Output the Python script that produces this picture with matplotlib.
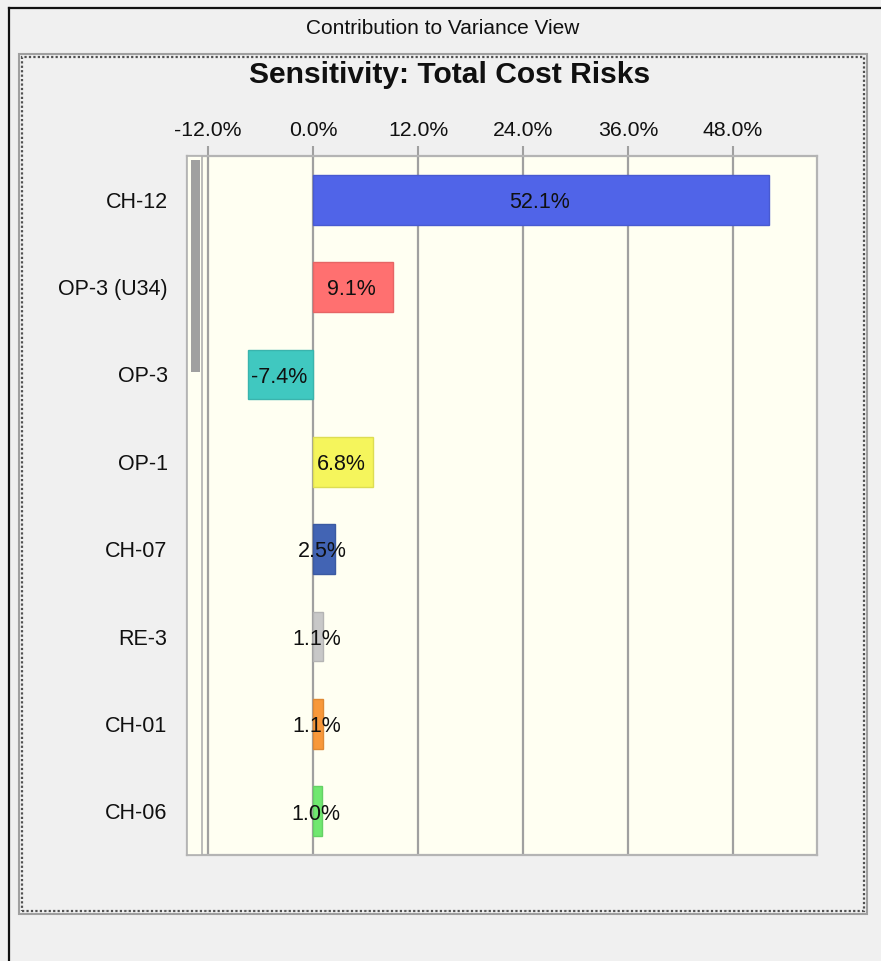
import numpy as np
import matplotlib
matplotlib.use('Agg')
import matplotlib.pyplot as plt
from matplotlib.patches import Rectangle
from matplotlib.lines import Line2D
from matplotlib.colors import to_rgb

plt.rcParams['font.family'] = ['Liberation Sans', 'DejaVu Sans']

# data read from the sensitivity view
risks = ['CH-12', 'OP-3 (U34)', 'OP-3', 'OP-1', 'CH-07', 'RE-3', 'CH-01', 'CH-06']
contribution = [52.1, 9.1, -7.4, 6.8, 2.5, 1.1, 1.1, 1.0]
bar_colors = ['#5064E8', '#FF7070', '#40C8C0', '#F5F55C', '#4264B4', '#C8C8C8', '#F8983A', '#70E870']
tick_values = [-12, 0, 12, 24, 36, 48]

W, H = 881, 961
fig = plt.figure(figsize=(W/100, H/100), dpi=100)
fig.patch.set_facecolor('#F0F0F0')

# window edges (top / left dark line)
fig.add_artist(Line2D([9/W, 1], [1-8/H, 1-8/H], color='#101010', lw=1.6))
fig.add_artist(Line2D([9/W, 9/W], [0, 1-8/H], color='#101010', lw=1.6))

fig.text(443/W, 1-28/H, 'Contribution to Variance View', ha='center', va='center', fontsize=15, color='#101010')

# dotted panel frame
fig.add_artist(Rectangle((19/W, 1-914/H), 848/W, 860/H, transform=fig.transFigure,
                         fill=False, ec='#A0A0A0', lw=1.5))
fig.add_artist(Rectangle((22/W, 1-911/H), 842/W, 854/H, transform=fig.transFigure,
                         fill=False, ec='#505050', lw=1.6, ls=(0, (1, 1))))

fig.text(450/W, 1-75/H, 'Sensitivity: Total Cost Risks', ha='center', va='center',
         fontsize=21.6, fontweight='bold', color='#101010')

ax = fig.add_axes([187/W, 1-855/H, 630/W, 699/H])
ax.set_facecolor('#FFFFF2')

y = np.arange(len(risks))
edge = [tuple(np.array(to_rgb(c))*0.9) for c in bar_colors]
ax.barh(y, contribution, height=0.57, color=bar_colors, edgecolor=edge, linewidth=1, zorder=3)

for yi, v in zip(y, contribution):
    ax.annotate('%.1f%%' % v, (v/2, yi), xytext=(-1, -2), textcoords='offset points',
                ha='center', va='center', fontsize=15.5, color='#101010', zorder=4)

ax.set_xlim(-14.4, 57.6)
ax.set_ylim(len(risks)-0.5, -0.5)
ax.set_xticks(tick_values)
ax.set_xticklabels(['%.1f%%' % t for t in tick_values])
ax.set_yticks(y)
ax.set_yticklabels(risks)
ax.xaxis.tick_top()
ax.tick_params(axis='x', which='both', length=7.5, width=1.5, color='#A0A0A0', pad=4,
               labelsize=15.3, labelcolor='#101010')
ax.tick_params(axis='y', length=0, pad=14, labelsize=15.5, labelcolor='#101010')
ax.grid(axis='x', color='#A0A0A0', lw=1.6, zorder=1)
ax.set_axisbelow(True)
for s in ax.spines.values():
    s.set_color('#B4B4B4')
    s.set_linewidth(1.6)

# scrollbar on the left of the plot area
ax.add_patch(Rectangle((0, 0), 15/630, 1, transform=ax.transAxes, fc='#FFFFF2',
                       ec='#B0B0B0', lw=1.2, zorder=5))
ax.add_patch(Rectangle((4/630, 1-216/699), 9/630, 212/699, transform=ax.transAxes,
                       fc='#A0A0A0', ec='none', zorder=6))

fig.savefig('out.png', dpi=100, facecolor=fig.get_facecolor())
